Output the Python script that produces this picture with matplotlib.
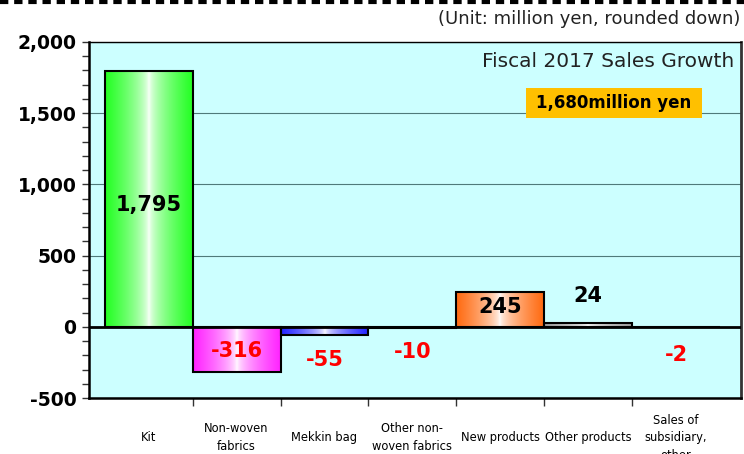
import numpy as np
import matplotlib.pyplot as plt
from matplotlib.lines import Line2D
from matplotlib.patches import Rectangle
from matplotlib.colors import to_rgb

# data
categories = ["Kit", "Non-woven\nfabrics", "Mekkin bag", "Other non-\nwoven fabrics",
              "New products", "Other products", "Sales of\nsubsidiary,\nother"]
growth = [1795, -316, -55, -10, 245, 24, -2]
value_text = ["1,795", "-316", "-55", "-10", "245", "24", "-2"]
bar_colors = ["#22ff22", "#ff22ff", "#2222ff", "#111111", "#ff6a10", "#a0a0a0", "#a0a0a0"]
# where the value labels sit (data units)
label_y = [856, -168, -232, -175, 140, 218, -197]
total_text = "1,680million yen"


def gradient_bar(ax, bar, color):
    # edge colour -> white in the middle, like the Excel fill
    x0, y0 = bar.get_x(), bar.get_y()
    w, h = bar.get_width(), bar.get_height()
    t = np.abs(np.linspace(-1, 1, 200)) ** 0.6
    c = np.array(to_rgb(color))
    rgb = (1 - t)[:, None] * np.ones(3) + t[:, None] * c
    img = np.tile(rgb[None, :, :], (2, 1, 1))
    im = ax.imshow(img, extent=[x0, x0 + w, y0, y0 + h], aspect="auto", zorder=2,
                   interpolation="bilinear")
    im.set_clip_path(bar)


fig = plt.figure(figsize=(7.44, 4.54), dpi=100)
ax = fig.add_axes([89 / 744, 1 - 398 / 454, 652 / 744, 356 / 454])
ax.set_facecolor("#ccffff")

x = np.arange(len(categories))
bars = ax.bar(x, growth, width=1.0, color="none", edgecolor="black", linewidth=1.5, zorder=3)
for b, c in zip(bars, bar_colors):
    gradient_bar(ax, b, c)

ax.set_xlim(-0.68, 6.74)
ax.set_ylim(-500, 2000)

ax.set_yticks(np.arange(-500, 2001, 500))
ax.set_yticklabels(["{:,}".format(v) for v in range(-500, 2001, 500)],
                   fontsize=13.5, fontweight="bold")
ax.set_yticks(np.arange(-500, 2001, 100), minor=True)
ax.tick_params(axis="y", which="both", direction="out", length=5, width=1, color="#333333", pad=4)
ax.grid(axis="y", which="major", color="#4f7a7a", linewidth=0.8, zorder=1)
ax.set_axisbelow(True)
ax.axhline(0, color="black", linewidth=2, zorder=4)

ax.set_xticks(x)
ax.set_xticklabels(categories, fontsize=8.3, va="center", linespacing=1.45)
ax.tick_params(axis="x", which="major", length=0, pad=28.5)
ax.set_xticks(x[:-1] + 0.5, minor=True)
ax.tick_params(axis="x", which="minor", direction="out", length=6, width=1, color="#333333")

for s in ["left", "bottom"]:
    ax.spines[s].set_linewidth(1.8)
    ax.spines[s].set_color("black")
ax.spines["top"].set_linewidth(1)
ax.spines["right"].set_linewidth(2)
ax.spines["right"].set_color("#333333")

for i, (v, t, ly) in enumerate(zip(growth, value_text, label_y)):
    col = "red" if v < 0 else "black"
    ax.text(i, ly, t, ha="center", va="center", fontsize=15, fontweight="bold", color=col, zorder=5)

ax.text(0.989, 0.945, "Fiscal 2017 Sales Growth", transform=ax.transAxes, ha="right",
        va="center", fontsize=14.5, color="#222222")

# yellow total box
fig.add_artist(Rectangle((526 / 744, 1 - 118 / 454), 176 / 744, 30 / 454,
                         transform=fig.transFigure, facecolor="#ffc000", edgecolor="none"))
fig.text(614 / 744, 1 - 103 / 454, total_text, ha="center", va="center", fontsize=12,
         fontweight="bold")
fig.text(740 / 744, 1 - 19 / 454, "(Unit: million yen, rounded down)", ha="right",
         va="center", fontsize=13, color="#222222")

# dashed separator at the very top
fig.add_artist(Line2D([0, 1], [1 - 2 / 454, 1 - 2 / 454], transform=fig.transFigure,
                      color="black", linewidth=3, dashes=(2, 1.4)))

fig.savefig("out.png", dpi=100)
